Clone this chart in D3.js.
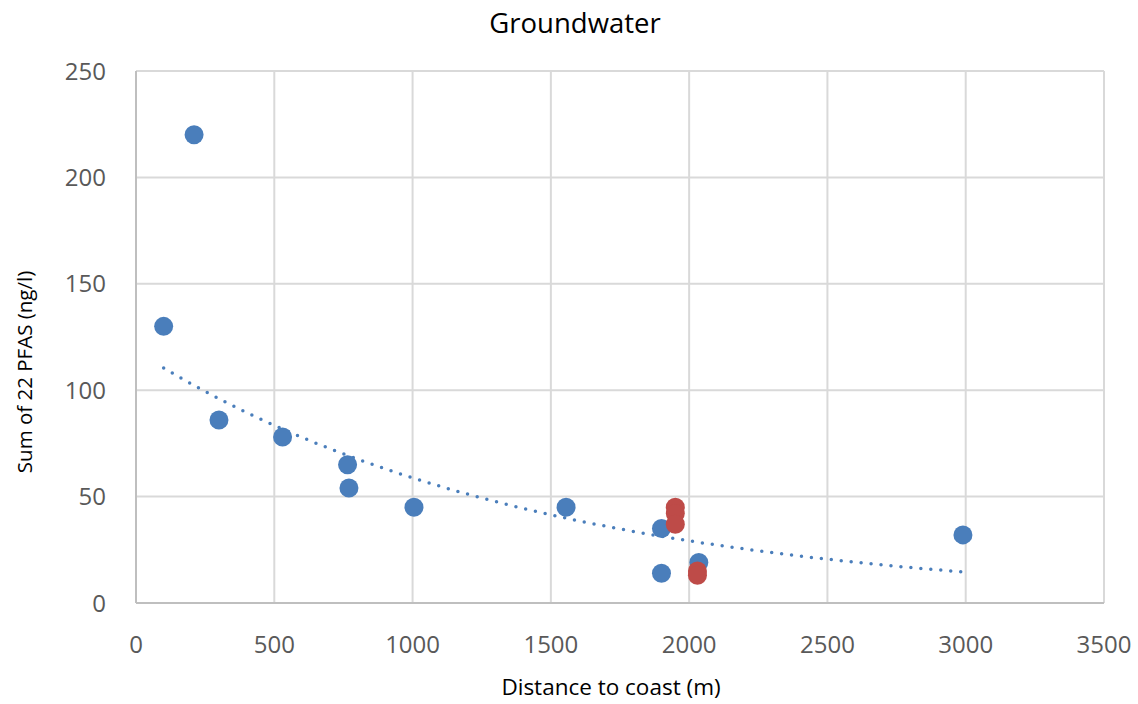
<!DOCTYPE html>
<html><head><meta charset="utf-8">
<script src="https://cdn.jsdelivr.net/npm/d3@7"></script>
<style>body{margin:0;background:#fff}svg{display:block}</style>
</head><body><svg id="c" width="1138" height="704"></svg>
<script>
const title = "Groundwater";
const xTitle = "Distance to coast (m)";
const yTitle = "Sum of 22 PFAS (ng/l)";
const xTicks = [0, 500, 1000, 1500, 2000, 2500, 3000, 3500];
const yTicks = [0, 50, 100, 150, 200, 250];
const blueX = [100, 210, 300, 530, 765, 770, 1005, 1555, 1900, 1900, 2035, 2990];
const blueY = [130, 220, 86, 78, 65, 54, 45, 45, 35, 14, 19, 32];
const redX = [1950, 1950, 1950, 2030, 2030];
const redY = [45, 42, 37, 15, 13];

const svg = d3.select("#c");
const L = 136, R = 1104, T = 71, B = 603;
const x = d3.scaleLinear().domain([0, 3500]).range([L, R]);
const y = d3.scaleLinear().domain([0, 250]).range([B, T]);
const font = "'Open Sans', 'Liberation Sans', sans-serif";

// grid
svg.append("g").selectAll("line").data(xTicks.slice(1)).join("line")
  .attr("x1", d => x(d)).attr("x2", d => x(d)).attr("y1", T).attr("y2", B)
  .attr("stroke", "#d9d9d9").attr("stroke-width", 2);
svg.append("g").selectAll("line").data(yTicks.slice(1)).join("line")
  .attr("x1", L).attr("x2", R).attr("y1", d => y(d)).attr("y2", d => y(d))
  .attr("stroke", "#d9d9d9").attr("stroke-width", 2);
// axes lines
svg.append("line").attr("x1", L).attr("x2", L).attr("y1", T).attr("y2", B).attr("stroke", "#bfbfbf").attr("stroke-width", 2);
svg.append("line").attr("x1", L).attr("x2", R).attr("y1", B).attr("y2", B).attr("stroke", "#bfbfbf").attr("stroke-width", 2);

// tick labels
svg.append("g").selectAll("text").data(xTicks).join("text")
  .attr("x", d => x(d)).attr("y", 653).attr("text-anchor", "middle")
  .attr("font-family", font).attr("font-size", 24).attr("fill", "#595959").text(d => d);
svg.append("g").selectAll("text").data(yTicks).join("text")
  .attr("x", 106).attr("y", d => y(d) + 8.5).attr("text-anchor", "end")
  .attr("font-family", font).attr("font-size", 24).attr("fill", "#595959").text(d => d);

// titles
svg.append("text").attr("x", 575).attr("y", 33).attr("text-anchor", "middle")
  .attr("font-family", font).attr("font-size", 27.5).attr("fill", "#000").text(title);
svg.append("text").attr("x", 611).attr("y", 695).attr("text-anchor", "middle")
  .attr("font-family", font).attr("font-size", 22.5).attr("fill", "#000").text(xTitle);
svg.append("text").attr("transform", "translate(32,372) rotate(-90)").attr("text-anchor", "middle")
  .attr("font-family", font).attr("font-size", 20.5).attr("fill", "#000").text(yTitle);

// exponential trendline fitted to blue series (least squares on ln y)
const mx = d3.mean(blueX), ml = d3.mean(blueY, v => Math.log(v));
let sxy = 0, sxx = 0;
blueX.forEach((v, i) => { sxy += (v - mx) * (Math.log(blueY[i]) - ml); sxx += (v - mx) * (v - mx); });
const b = sxy / sxx, a = Math.exp(ml - b * mx);
const xs = d3.range(d3.min(blueX), d3.max(blueX) + 1, 10);
svg.append("path").datum(xs)
  .attr("d", d3.line().x(d => x(d)).y(d => y(a * Math.exp(b * d))))
  .attr("fill", "none").attr("stroke", "#4a7ebb").attr("stroke-width", 3.5)
  .attr("stroke-linecap", "round").attr("stroke-dasharray", "0 10");

// points
svg.append("g").selectAll("circle").data(blueX.map((v, i) => [v, blueY[i]])).join("circle")
  .attr("cx", d => x(d[0])).attr("cy", d => y(d[1])).attr("r", 9.5).attr("fill", "#4a7ebb");
svg.append("g").selectAll("circle").data(redX.map((v, i) => [v, redY[i]])).join("circle")
  .attr("cx", d => x(d[0])).attr("cy", d => y(d[1])).attr("r", 9.5).attr("fill", "#be4b48");
</script></body></html>
